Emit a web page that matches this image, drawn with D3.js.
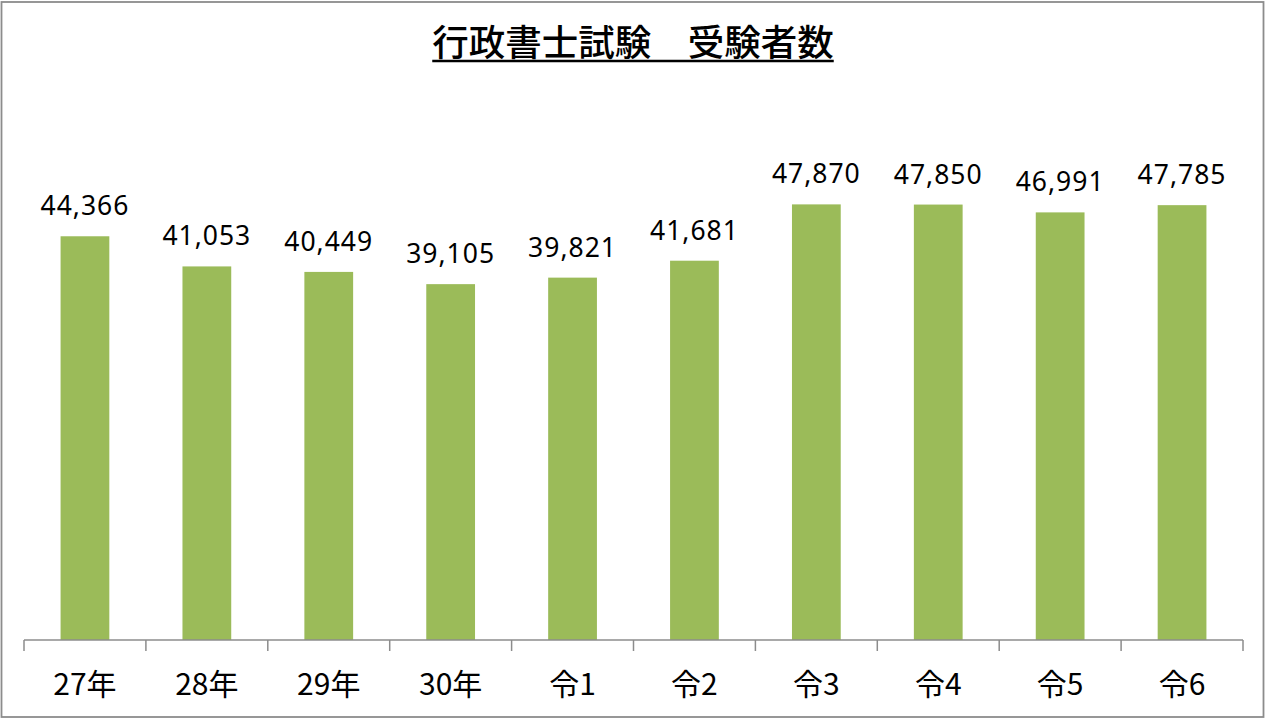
<!DOCTYPE html>
<html lang="ja">
<head>
<meta charset="UTF-8">
<title>行政書士試験 受験者数</title>
<style>
  body { margin: 0; background: #fff; }
  svg { display: block; }
</style>
</head>
<body>
<svg width="1266" height="720"></svg>
<script src="https://d3js.org/d3.v7.min.js"></script>
<script>
// data
var categories = ["27年", "28年", "29年", "30年", "令1", "令2", "令3", "令4", "令5", "令6"];
var examinees = [44366, 41053, 40449, 39105, 39821, 41681, 47870, 47850, 46991, 47785];
var titleText = "行政書士試験\u3000受験者数";

var svg = d3.select("svg"),
    width = +svg.attr("width"),
    height = +svg.attr("height");

// outer frame
svg.append("rect")
    .attr("x", 1.5).attr("y", 2)
    .attr("width", 1262).attr("height", 715)
    .attr("fill", "#fff")
    .attr("stroke", "#8c8c8c")
    .attr("stroke-width", 1.8);

var x = d3.scaleBand()
    .domain(categories)
    .range([24, 1243])
    .paddingInner(0.6)
    .paddingOuter(0.3);

var y = d3.scaleLinear()
    .domain([0, 60000])
    .range([640, 94]);

var data = categories.map(function (c, i) { return { cat: c, val: examinees[i] }; });

// bars
svg.selectAll(".bar")
    .data(data)
    .enter().append("rect")
    .attr("class", "bar")
    .attr("x", function (d) { return x(d.cat); })
    .attr("y", function (d) { return y(d.val); })
    .attr("width", x.bandwidth())
    .attr("height", function (d) { return y(0) - y(d.val); })
    .attr("fill", "#9bbb59");

// value labels
svg.selectAll(".val")
    .data(data)
    .enter().append("text")
    .attr("class", "val")
    .attr("x", function (d) { return x(d.cat) + x.bandwidth() / 2; })
    .attr("y", function (d) { return y(d.val) - 21; })
    .attr("text-anchor", "middle")
    .attr("font-family", "'Noto Sans', sans-serif")
    .attr("font-size", 26.5)
    .attr("letter-spacing", 1)
    .attr("fill", "#000")
    .text(function (d) { return d3.format(",")(d.val); });

// x axis: line + ticks between categories
var step = x.step();
var axisG = svg.append("g").attr("stroke", "#8c8c8c").attr("stroke-width", 1.5);
axisG.append("line")
    .attr("x1", 24).attr("x2", 1243)
    .attr("y1", 640).attr("y2", 640);
var tickPos = d3.range(categories.length + 1).map(function (i) { return 24 + i * step; });
axisG.selectAll(".tick")
    .data(tickPos)
    .enter().append("line")
    .attr("x1", function (d) { return d; })
    .attr("x2", function (d) { return d; })
    .attr("y1", 640).attr("y2", 651);

// category labels
svg.selectAll(".cat")
    .data(categories)
    .enter().append("text")
    .attr("class", "cat")
    .attr("x", function (d) { return x(d) + x.bandwidth() / 2; })
    .attr("y", 695)
    .attr("text-anchor", "middle")
    .attr("font-family", "'Noto Sans CJK JP', 'Noto Sans', sans-serif")
    .attr("font-size", 30)
    .attr("fill", "#000")
    .text(function (d) { return d; });

// title with underline
var title = svg.append("text")
    .attr("x", width / 2)
    .attr("y", 56)
    .attr("text-anchor", "middle")
    .attr("font-family", "'Noto Sans CJK JP', sans-serif")
    .attr("font-size", 36.5)
    .attr("font-weight", 500)
    .attr("fill", "#000")
    .text(titleText);
var bb = title.node().getBBox();
svg.append("line")
    .attr("x1", bb.x).attr("x2", bb.x + bb.width)
    .attr("y1", 61).attr("y2", 61)
    .attr("stroke", "#000")
    .attr("stroke-width", 2.5);
</script>
</body>
</html>
